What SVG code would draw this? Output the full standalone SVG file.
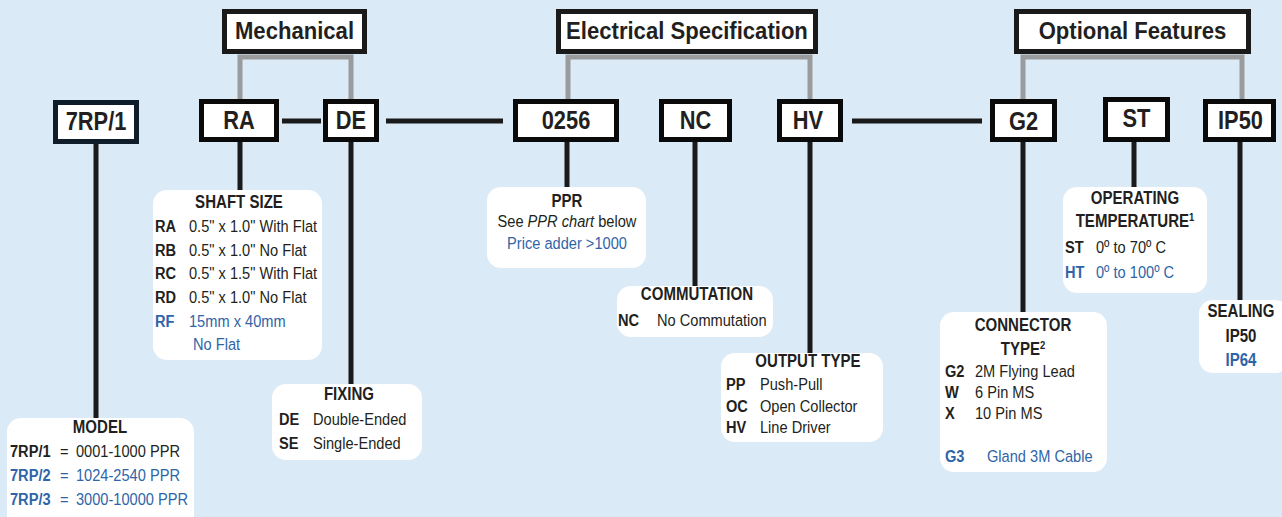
<svg xmlns="http://www.w3.org/2000/svg" width="1282" height="517" viewBox="0 0 1282 517">
<style>
text{font-family:"Liberation Sans",Arial,sans-serif;fill:#231f20}
.hdr{fill:#fff;stroke:#1a1a1a;stroke-width:5}
.code{fill:#fff;stroke:#0a0a0a;stroke-width:5}
.ht{font-size:23.5px;font-weight:bold;text-anchor:middle}
.ct{font-size:26px;font-weight:bold;text-anchor:middle}
.info{fill:#fff}
.tt{font-size:17.5px;font-weight:bold;text-anchor:middle}
.b{font-size:17px;font-weight:bold}
.n{font-size:17px}
.m{text-anchor:middle}
.bl{fill:#2f65a7}
.gray{stroke:#9a9b9d;stroke-width:5;fill:none}
.blk{stroke:#1a1a1a;stroke-width:5;fill:none}
</style>
<rect width="1282" height="517" fill="#dbeaf7"/>
<g id="connectors">
<path class="gray" d="M240 99V57H351V99"/>
<path class="gray" d="M568 99V57H810V99"/>
<path class="gray" d="M1023 99V57H1242V99"/>
<path class="blk" d="M282 121H321M386 121H503M852 121H982"/>
<path class="blk" d="M96 144V418M240 142V190M351 142V384M567 142V187M695 142V286M810 142V353M1023 142V312M1134 142V187M1240 142V300"/>
</g>
<g id="hdr-mech"><rect class="hdr" x="224.5" y="11.5" width="140" height="40"/><text class="ht" x="294.5" y="39" transform="matrix(.94 0 0 1 17.67 0)">Mechanical</text></g>
<g id="hdr-elec"><rect class="hdr" x="558.5" y="11.5" width="257" height="40"/><text class="ht" x="687" y="39" transform="matrix(.94 0 0 1 41.22 0)">Electrical Specification</text></g>
<g id="hdr-opt"><rect class="hdr" x="1016.5" y="11.5" width="232" height="40"/><text class="ht" x="1132.5" y="39" transform="matrix(.94 0 0 1 67.95 0)">Optional Features</text></g>
<g id="code-7rp"><rect class="code" x="55.5" y="102.5" width="81" height="39" style="stroke:#0f1d2a"/><text class="ct" x="96" y="130" transform="matrix(.84 0 0 1 15.36 0)">7RP/1</text></g>
<g id="code-ra"><rect class="code" x="201.5" y="101.5" width="75" height="38"/><text class="ct" x="239" y="129" transform="matrix(.84 0 0 1 38.24 0)">RA</text></g>
<g id="code-de"><rect class="code" x="325.5" y="101.5" width="51" height="38"/><text class="ct" x="351" y="129" transform="matrix(.84 0 0 1 56.16 0)">DE</text></g>
<g id="code-0256"><rect class="code" x="515.5" y="101.5" width="101" height="38"/><text class="ct" x="566" y="129" transform="matrix(.84 0 0 1 90.56 0)">0256</text></g>
<g id="code-nc"><rect class="code" x="661.5" y="101.5" width="68" height="38"/><text class="ct" x="695.5" y="129" transform="matrix(.84 0 0 1 111.28 0)">NC</text></g>
<g id="code-hv"><rect class="code" x="779.5" y="101.5" width="61" height="38"/><text class="ct" x="808" y="129" transform="matrix(.84 0 0 1 129.28 0)">HV</text></g>
<g id="code-g2"><rect class="code" x="992.5" y="101.5" width="62" height="38"/><text class="ct" x="1023.5" y="130" transform="matrix(.84 0 0 1 163.76 0)">G2</text></g>
<g id="code-st"><rect class="code" x="1105.5" y="99.5" width="62" height="40"/><text class="ct" x="1136.5" y="127" transform="matrix(.84 0 0 1 181.84 0)">ST</text></g>
<g id="code-ip50"><rect class="code" x="1205.5" y="101.5" width="68" height="38"/><text class="ct" x="1240.5" y="129" transform="matrix(.84 0 0 1 198.48 0)">IP50</text></g>
<g id="info-model"><rect class="info" x="7" y="418" width="187" height="112" rx="14"/>
<text class="tt" x="100" y="433" transform="matrix(.86 0 0 1 14 0)">MODEL</text>
<text class="b" x="10" y="457" transform="matrix(.86 0 0 1 1.4 0)">7RP/1</text><text class="n" x="60" y="457" transform="matrix(.86 0 0 1 8.4 0)">=</text><text class="n" x="76" y="457" transform="matrix(.86 0 0 1 10.64 0)">0001-1000 PPR</text>
<text class="b bl" x="10" y="481" transform="matrix(.86 0 0 1 1.4 0)">7RP/2</text><text class="n bl" x="60" y="481" transform="matrix(.86 0 0 1 8.4 0)">=</text><text class="n bl" x="76" y="481" transform="matrix(.86 0 0 1 10.64 0)">1024-2540 PPR</text>
<text class="b bl" x="10" y="505" transform="matrix(.86 0 0 1 1.4 0)">7RP/3</text><text class="n bl" x="60" y="505" transform="matrix(.86 0 0 1 8.4 0)">=</text><text class="n bl" x="76" y="505" transform="matrix(.86 0 0 1 10.64 0)">3000-10000 PPR</text>
</g>
<g id="info-shaft"><rect class="info" x="153" y="190" width="169" height="170" rx="14"/>
<text class="tt" x="239" y="208" transform="matrix(.86 0 0 1 33.46 0)">SHAFT SIZE</text>
<text class="b" x="155" y="232" transform="matrix(.86 0 0 1 21.7 0)">RA</text><text class="n" x="189" y="232" transform="matrix(.86 0 0 1 26.46 0)">0.5" x 1.0" With Flat</text>
<text class="b" x="155" y="256" transform="matrix(.86 0 0 1 21.7 0)">RB</text><text class="n" x="189" y="256" transform="matrix(.86 0 0 1 26.46 0)">0.5" x 1.0" No Flat</text>
<text class="b" x="155" y="279" transform="matrix(.86 0 0 1 21.7 0)">RC</text><text class="n" x="189" y="279" transform="matrix(.86 0 0 1 26.46 0)">0.5" x 1.5" With Flat</text>
<text class="b" x="155" y="303" transform="matrix(.86 0 0 1 21.7 0)">RD</text><text class="n" x="189" y="303" transform="matrix(.86 0 0 1 26.46 0)">0.5" x 1.0" No Flat</text>
<text class="b bl" x="155" y="327" transform="matrix(.86 0 0 1 21.7 0)">RF</text><text class="n bl" x="189" y="327" transform="matrix(.86 0 0 1 26.46 0)">15mm x 40mm</text>
<text class="n bl" x="193" y="350" transform="matrix(.86 0 0 1 27.02 0)">No Flat</text>
</g>
<g id="info-fixing"><rect class="info" x="272" y="384" width="150" height="76" rx="14"/>
<text class="tt" x="349" y="400" transform="matrix(.86 0 0 1 48.86 0)">FIXING</text>
<text class="b" x="279" y="425" transform="matrix(.86 0 0 1 39.06 0)">DE</text><text class="n" x="313" y="425" transform="matrix(.86 0 0 1 43.82 0)">Double-Ended</text>
<text class="b" x="279" y="449" transform="matrix(.86 0 0 1 39.06 0)">SE</text><text class="n" x="313" y="449" transform="matrix(.86 0 0 1 43.82 0)">Single-Ended</text>
</g>
<g id="info-ppr"><rect class="info" x="487" y="187" width="159" height="81" rx="14"/>
<text class="tt" x="567" y="207" transform="matrix(.86 0 0 1 79.38 0)">PPR</text>
<text class="n m" x="567" y="227" transform="matrix(.86 0 0 1 79.38 0)">See <tspan font-style="italic">PPR chart</tspan> below</text>
<text class="n bl m" x="567" y="249" transform="matrix(.86 0 0 1 79.38 0)">Price adder &gt;1000</text>
</g>
<g id="info-comm"><rect class="info" x="617" y="286" width="156" height="51" rx="14"/>
<text class="tt" x="697" y="300" transform="matrix(.86 0 0 1 97.58 0)">COMMUTATION</text>
<text class="b" x="618" y="326" transform="matrix(.86 0 0 1 86.52 0)">NC</text><text class="n" x="657" y="326" transform="matrix(.86 0 0 1 91.98 0)">No Commutation</text>
</g>
<g id="info-output"><rect class="info" x="721" y="353" width="162" height="89" rx="14"/>
<text class="tt" x="808" y="367" transform="matrix(.86 0 0 1 113.12 0)">OUTPUT TYPE</text>
<text class="b" x="726" y="390" transform="matrix(.86 0 0 1 101.64 0)">PP</text><text class="n" x="760" y="390" transform="matrix(.86 0 0 1 106.4 0)">Push-Pull</text>
<text class="b" x="726" y="412" transform="matrix(.86 0 0 1 101.64 0)">OC</text><text class="n" x="760" y="412" transform="matrix(.86 0 0 1 106.4 0)">Open Collector</text>
<text class="b" x="726" y="433" transform="matrix(.86 0 0 1 101.64 0)">HV</text><text class="n" x="760" y="433" transform="matrix(.86 0 0 1 106.4 0)">Line Driver</text>
</g>
<g id="info-connector"><rect class="info" x="940" y="312" width="167" height="160" rx="14"/>
<text class="tt" x="1023" y="331" transform="matrix(.86 0 0 1 143.22 0)">CONNECTOR</text>
<text class="tt" x="1023" y="355" transform="matrix(.86 0 0 1 143.22 0)">TYPE<tspan font-size="11" dy="-6">2</tspan></text>
<text class="b" x="945" y="377" transform="matrix(.86 0 0 1 132.3 0)">G2</text><text class="n" x="975" y="377" transform="matrix(.86 0 0 1 136.5 0)">2M Flying Lead</text>
<text class="b" x="945" y="398" transform="matrix(.86 0 0 1 132.3 0)">W</text><text class="n" x="975" y="398" transform="matrix(.86 0 0 1 136.5 0)">6 Pin MS</text>
<text class="b" x="945" y="419" transform="matrix(.86 0 0 1 132.3 0)">X</text><text class="n" x="975" y="419" transform="matrix(.86 0 0 1 136.5 0)">10 Pin MS</text>
<text class="b bl" x="945" y="462" transform="matrix(.86 0 0 1 132.3 0)">G3</text><text class="n bl" x="987" y="462" transform="matrix(.86 0 0 1 138.18 0)">Gland 3M Cable</text>
</g>
<g id="info-temp"><rect class="info" x="1063" y="187" width="144" height="106" rx="14"/>
<text class="tt" x="1135" y="204" transform="matrix(.86 0 0 1 158.9 0)">OPERATING</text>
<text class="tt" x="1135" y="227" transform="matrix(.86 0 0 1 158.9 0)">TEMPERATURE<tspan font-size="11" dy="-6">1</tspan></text>
<text class="b" x="1065" y="253" transform="matrix(.86 0 0 1 149.1 0)">ST</text><text class="n" x="1096" y="253" transform="matrix(.86 0 0 1 153.44 0)">0º to 70º C</text>
<text class="b bl" x="1065" y="278" transform="matrix(.86 0 0 1 149.1 0)">HT</text><text class="n bl" x="1096" y="278" transform="matrix(.86 0 0 1 153.44 0)">0º to 100º C</text>
</g>
<g id="info-sealing"><rect class="info" x="1199" y="300" width="90" height="73" rx="14"/>
<text class="tt" x="1241" y="317" transform="matrix(.86 0 0 1 173.74 0)">SEALING</text>
<text class="tt" x="1241" y="342" transform="matrix(.86 0 0 1 173.74 0)">IP50</text>
<text class="tt bl" x="1241" y="366" transform="matrix(.86 0 0 1 173.74 0)">IP64</text>
</g>
</svg>
